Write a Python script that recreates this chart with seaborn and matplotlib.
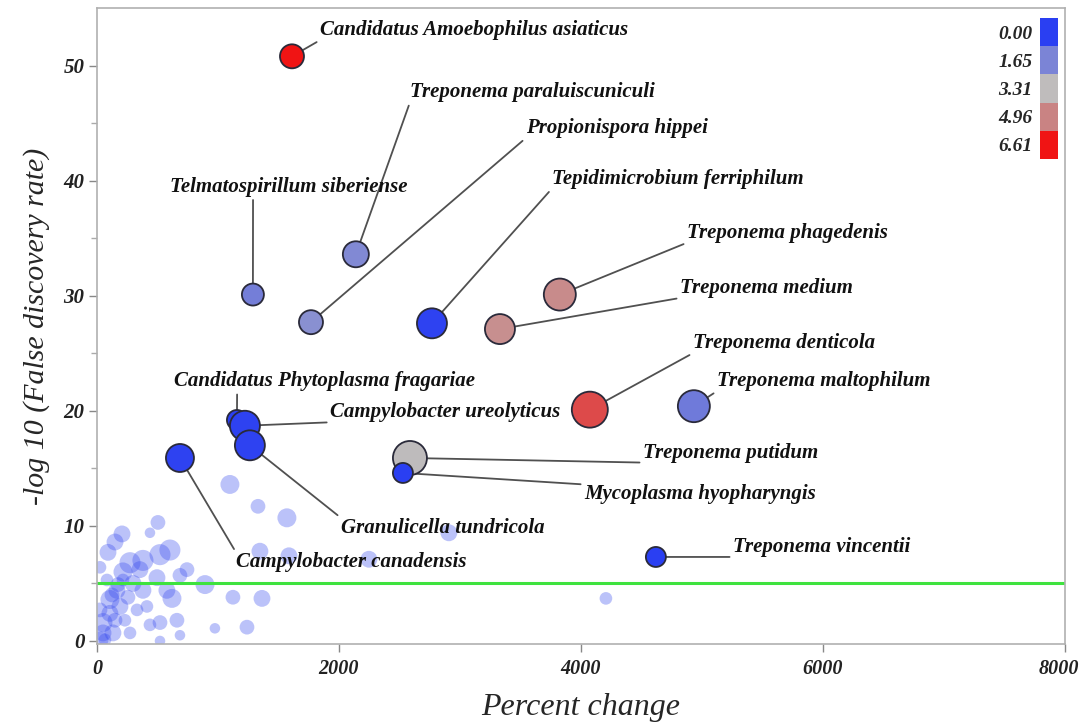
import numpy as np
import pandas as pd
import matplotlib
matplotlib.use("Agg")
import matplotlib.pyplot as plt
from matplotlib.colors import LinearSegmentedColormap
from matplotlib.transforms import ScaledTranslation
import seaborn as sns

# ---------------- data ----------------
species = ["Candidatus Amoebophilus asiaticus", "Treponema paraluiscuniculi",
           "Propionispora hippei", "Telmatospirillum siberiense",
           "Tepidimicrobium ferriphilum", "Treponema phagedenis", "Treponema medium",
           "Treponema denticola", "Treponema maltophilum",
           "Candidatus Phytoplasma fragariae", "Campylobacter ureolyticus",
           "Granulicella tundricola", "Campylobacter canadensis", "Treponema putidum",
           "Mycoplasma hyopharyngis", "Treponema vincentii"]
sp_change = [1612, 2140, 1769, 1289, 2769, 3826, 3331, 4074, 4934,
             1157, 1223, 1264, 686, 2587, 2529, 4620]
sp_fdr = [50.8, 33.6, 27.7, 30.1, 27.6, 30.1, 27.1, 20.1, 20.4,
          19.2, 18.7, 17.0, 15.9, 15.9, 14.6, 7.3]
sp_color = [6.61, 1.8, 2.0, 1.5, 0.1, 4.7, 4.6, 5.8, 1.4,
            0.0, 0.1, 0.1, 0.1, 3.3, 0.0, 0.0]
sp_abund = [144, 169, 144, 121, 225, 256, 225, 324, 256,
            100, 225, 225, 196, 289, 100, 100]

bg_change = [1331, 1570, 504, 438, 207, 149, 91, 603, 521, 380, 273, 215, 744, 686,
             496, 893, 1124, 1364, 620, 380, 165, 107, 190, 331, 413, 661, 521, 438,
             975, 1240, 686, 50, 50, 132, 273, 521, 107, 83, 215, 298, 25, 355, 578,
             1099, 1587, 2248, 1347, 2909, 4207, 25, 124, 174, 66, 231, 149, 25, 256]
bg_fdr = [11.7, 10.7, 10.3, 9.4, 9.3, 8.6, 7.7, 7.9, 7.5, 7.0, 6.8, 6.0, 6.2, 5.7,
          5.5, 4.9, 3.8, 3.7, 3.7, 4.4, 4.4, 3.6, 3.0, 2.7, 3.0, 1.8, 1.6, 1.4,
          1.1, 1.2, 0.5, 1.6, 0.7, 0.7, 0.7, 0.0, 2.4, 5.3, 5.3, 5.0, 6.4, 6.2, 4.4,
          13.6, 7.4, 7.1, 7.8, 9.4, 3.7, 2.7, 4.0, 4.9, 0.1, 1.8, 1.8, 0.1, 3.8]
bg_abund = [49, 81, 49, 25, 64, 64, 64, 100, 100, 100, 100, 81, 49, 49,
            64, 81, 49, 64, 81, 64, 64, 81, 64, 36, 36, 49, 49, 36,
            25, 49, 25, 81, 64, 64, 36, 25, 64, 36, 36, 64, 36, 64, 64,
            81, 64, 64, 64, 64, 36, 49, 49, 49, 36, 36, 49, 64, 49]

legend_ticks = [0.00, 1.65, 3.31, 4.96, 6.61]
legend_colors = ["#2a3ff2", "#7b84d6", "#bfbcbc", "#c98383", "#f01414"]

# label anchor (data coords), vertical alignment, leader attach point on text bbox
label_pos = {
    "Candidatus Amoebophilus asiaticus": (1843, 52.2, "bottom", (0, 0)),
    "Treponema paraluiscuniculi": (2587, 46.8, "bottom", (0, 0)),
    "Propionispora hippei": (3545, 43.7, "bottom", (0, 0)),
    "Telmatospirillum siberiense": (603, 38.6, "bottom", (0.35, 0)),
    "Tepidimicrobium ferriphilum": (3760, 39.3, "bottom", (0, 0)),
    "Treponema phagedenis": (4876, 34.6, "bottom", (0, 0)),
    "Treponema medium": (4818, 29.8, "bottom", (0, 0)),
    "Treponema denticola": (4925, 25.0, "bottom", (0, 0)),
    "Treponema maltophilum": (5124, 21.7, "bottom", (0, 0)),
    "Candidatus Phytoplasma fragariae": (636, 21.7, "bottom", (0.21, 0)),
    "Campylobacter ureolyticus": (1926, 19.0, "bottom", (0, 0)),
    "Granulicella tundricola": (2016, 10.7, "top", (0, 1)),
    "Campylobacter canadensis": (1149, 7.7, "top", (0, 1)),
    "Treponema putidum": (4512, 15.5, "bottom", (0, 0)),
    "Mycoplasma hyopharyngis": (4025, 13.6, "top", (0, 1)),
    "Treponema vincentii": (5256, 7.3, "bottom", (0, 0)),
}

# ---------------- plot ----------------
sns.set_theme(style="white")
serif = ["Liberation Serif", "DejaVu Serif"]
plt.rcParams["font.family"] = serif

cmap = LinearSegmentedColormap.from_list("fdr", list(zip(
    [t / legend_ticks[-1] for t in legend_ticks], legend_colors)))

fig = plt.figure(figsize=(10.81, 7.26), dpi=100)
ax = fig.add_axes([0.0897, 0.113, 0.8953, 0.876])

bg = pd.DataFrame({"x": bg_change, "y": bg_fdr, "a": bg_abund})
sp = pd.DataFrame({"x": sp_change, "y": sp_fdr, "c": sp_color, "a": sp_abund, "name": species})

size_norm = (25, 324)
size_range = (2.0736 * 25, 2.0736 * 324)

sns.scatterplot(data=bg, x="x", y="y", size="a", sizes=(2.3 * 25, 2.3 * 324),
                size_norm=size_norm, color="#3347ee", alpha=0.33, linewidth=0,
                legend=False, ax=ax, zorder=2)

ax.axhline(5, color="#3ee23e", lw=2.2, zorder=2.5)

sns.scatterplot(data=sp, x="x", y="y", hue="c", palette=cmap, hue_norm=(0, 6.61),
                size="a", sizes=size_range, size_norm=size_norm,
                edgecolor="#2a2a3a", linewidth=1.3, legend=False, ax=ax, zorder=4)

for name, px, py in zip(species, sp_change, sp_fdr):
    tx, ty, va, rel = label_pos[name]
    ax.annotate(name, xy=(px, py), xytext=(tx, ty), textcoords="data",
                ha="left", va=va, fontsize=15, fontweight="bold", fontstyle="italic",
                color="#111111", zorder=3,
                arrowprops=dict(arrowstyle="-", color="#505050", lw=1.3,
                                shrinkA=0, shrinkB=0, relpos=rel))

ax.set_xlim(0, 8000)
ax.set_ylim(-0.26, 55.0)
ax.set_xticks([0, 2000, 4000, 6000, 8000])
ax.set_yticks([0, 10, 20, 30, 40, 50])
ax.set_yticks([5, 15, 25, 35, 45], minor=True)
ax.tick_params(axis="both", which="major", direction="out", length=6, width=1,
               color="#888888", labelsize=15, pad=3)
ax.tick_params(axis="y", which="minor", direction="out", length=4, width=1,
               color="#aaaaaa", left=True)
ax.tick_params(axis="x", which="major", bottom=True, pad=5, labelsize=14.5)
ax.tick_params(axis="y", which="major", left=True)
for lab in ax.get_xticklabels() + ax.get_yticklabels():
    lab.set_fontstyle("italic")
    lab.set_fontweight("bold")
    lab.set_color("#222222")
last = ax.get_xticklabels()[-1]
last.set_transform(last.get_transform() + ScaledTranslation(-6 / 100, 0, fig.dpi_scale_trans))
for s in ax.spines.values():
    s.set_color("#b0b0b0")
    s.set_linewidth(1.2)

ax.set_xlabel("Percent change", fontsize=23, fontstyle="italic", labelpad=10)
ax.set_ylabel("-log 10 (False discovery rate)", fontsize=21.5, fontstyle="italic",
              labelpad=10)

# colour legend (discrete blocks)
cax = ax.inset_axes([0.974, 0.763, 0.0176, 0.221])
cax.imshow(np.arange(len(legend_ticks)).reshape(-1, 1),
           cmap=matplotlib.colors.ListedColormap(legend_colors), aspect="auto",
           interpolation="nearest")
cax.set_xticks([])
cax.set_yticks(range(len(legend_ticks)))
cax.set_yticklabels([f"{t:.2f}" for t in legend_ticks])
cax.tick_params(axis="y", length=0, labelsize=14, pad=5)
for lab in cax.get_yticklabels():
    lab.set_fontstyle("italic")
    lab.set_fontweight("bold")
for s in cax.spines.values():
    s.set_visible(False)

fig.savefig("out.png", dpi=100)
